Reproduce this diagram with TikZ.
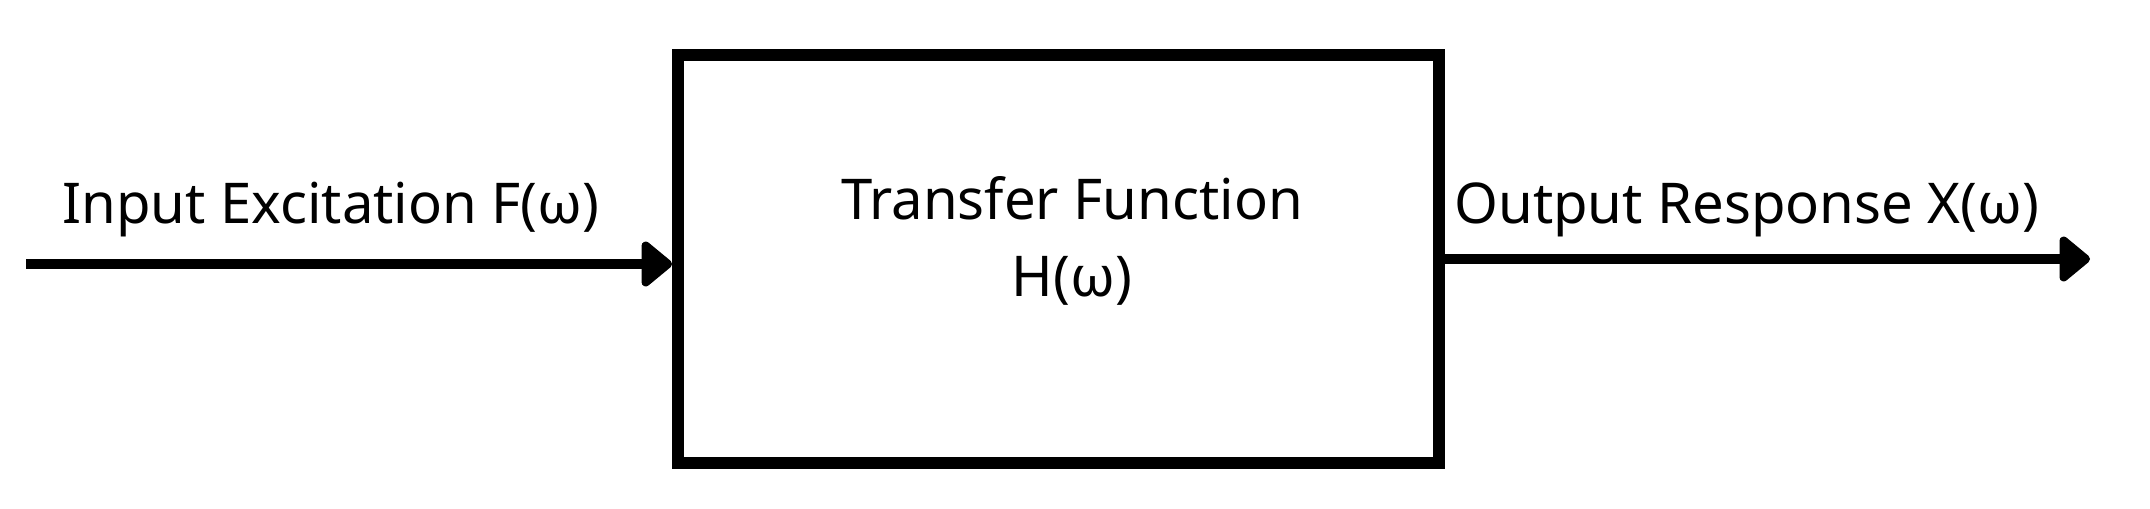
\documentclass[tikz,border=0pt]{standalone}
\usepackage{fontspec}
\setmainfont{Noto Sans}
\usetikzlibrary{arrows.meta}
\usetikzlibrary{positioning}

\tikzset{
  block/.style={draw=black, line width=0.24cm, minimum width=15.22cm, minimum height=8.18cm, inner sep=0pt},
  flow/.style={line width=0.2cm, -{Triangle[length=6.6mm,width=10.4mm,round]}},
  lbl/.style={inner sep=0pt, font=\fontsize{32}{44}\selectfont}
}

\begin{document}
\begin{tikzpicture}[x=0.02cm, y=-0.02cm]
    % 画布
    \useasboundingbox[fill=white] (0,0) rectangle (2150,508);

    % 方框
    \node[block] (tf) at (1058.5,259) {};
    \node[lbl, align=center, anchor=north] (tflbl) at (1072,176) {Transfer Function\\H(ω)};

    % 输入和输出
    \coordinate (in) at (26,264);
    \coordinate (out) at (2090,259);
    \draw[flow] (in) -- (in -| tf.west);
    \draw[flow] (tf.east |- out) -- (out);

    \node[lbl, anchor=base west] (inlbl) at (62,223) {Input Excitation F(ω)};
    \node[lbl, anchor=base west] (outlbl) at (1454,223) {Output Response X(ω)};

\end{tikzpicture}
\end{document}
